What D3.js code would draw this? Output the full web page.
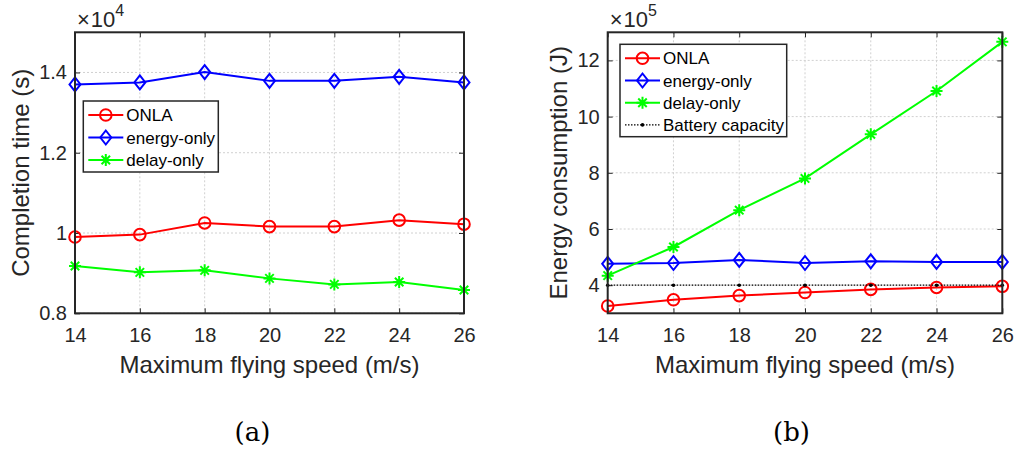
<!DOCTYPE html>
<html><head><meta charset="utf-8">
<script src="https://cdn.jsdelivr.net/npm/d3@7"></script>
<style>body{margin:0;background:#fff}svg{display:block}</style>
</head><body>
<svg id="c" width="1020" height="455"></svg>
<script>
const speeds = [14, 16, 18, 20, 22, 24, 26];
// (a) completion time, x1e4 s
const timeONLA = [0.990, 0.996, 1.025, 1.016, 1.016, 1.032, 1.022];
const timeEnergy = [1.370, 1.375, 1.401, 1.379, 1.379, 1.389, 1.375];
const timeDelay = [0.918, 0.902, 0.907, 0.887, 0.872, 0.878, 0.858];
// (b) energy consumption, x1e5 J
const enONLA = [3.26, 3.48, 3.63, 3.74, 3.85, 3.92, 3.96];
const enEnergy = [4.76, 4.79, 4.90, 4.79, 4.85, 4.83, 4.83];
const enDelay = [4.34, 5.36, 6.67, 7.80, 9.37, 10.91, 12.66];
const battery = [4, 4, 4, 4, 4, 4, 4];
const xTicks = [14, 16, 18, 20, 22, 24, 26];
const yTicksA = [0.8, 1, 1.2, 1.4];
const yTicksB = [4, 6, 8, 10, 12];
const namesA = ["ONLA", "energy-only", "delay-only"];
const namesB = ["ONLA", "energy-only", "delay-only", "Battery capacity"];

const svg = d3.select("#c");
const ink = "#262626";
const sans = "'Liberation Sans', Arial, sans-serif";
const serif = "'DejaVu Serif', 'Liberation Serif', serif";

function marker(g, type, color, x, y) {
  if (type === "circle") {
    g.append("circle").attr("cx", x).attr("cy", y).attr("r", 5.8)
      .attr("fill", "none").attr("stroke", color).attr("stroke-width", 2);
  } else if (type === "diamond") {
    g.append("path").attr("d", `M${x},${y-7}L${x+5.5},${y}L${x},${y+7}L${x-5.5},${y}Z`)
      .attr("fill", "none").attr("stroke", color).attr("stroke-width", 2);
  } else if (type === "star") {
    const r = 6, d = r * 0.707;
    g.append("path").attr("d", `M${x-r},${y}L${x+r},${y}M${x},${y-r}L${x},${y+r}M${x-d},${y-d}L${x+d},${y+d}M${x-d},${y+d}L${x+d},${y-d}`)
      .attr("stroke", color).attr("stroke-width", 2);
  } else if (type === "dot") {
    g.append("circle").attr("cx", x).attr("cy", y).attr("r", 1.8).attr("fill", color);
  }
}

function panel(opt) {
  const {left, right, top, bottom, yDomain, yTicks, series, exp, ylabel, legend} = opt;
  const x = d3.scaleLinear().domain([14, 26]).range([left, right]);
  const y = d3.scaleLinear().domain(yDomain).range([bottom, top]);
  const g = svg.append("g");
  // grid
  g.append("g").selectAll("line").data(xTicks.slice(1, -1)).join("line")
    .attr("x1", d => x(d)).attr("x2", d => x(d)).attr("y1", top).attr("y2", bottom)
    .attr("stroke", "#d0d0d0").attr("stroke-width", 1).attr("stroke-dasharray", "2,2");
  g.append("g").selectAll("line").data(yTicks).join("line")
    .attr("x1", left).attr("x2", right).attr("y1", d => y(d)).attr("y2", d => y(d))
    .attr("stroke", "#d0d0d0").attr("stroke-width", 1).attr("stroke-dasharray", "2,2");
  // axes (ticks inward, all sides)
  const tk = 5;
  const ax = g.append("g");
  const bAx = d3.axisBottom(x).tickValues(xTicks).tickSize(-tk).tickPadding(15).tickFormat(d3.format("d"));
  ax.append("g").attr("transform", `translate(0,${bottom})`).call(bAx);
  ax.append("g").attr("transform", `translate(0,${top})`).call(d3.axisTop(x).tickValues(xTicks).tickSize(-tk).tickFormat(""));
  const lAx = d3.axisLeft(y).tickValues(yTicks).tickSize(-tk).tickPadding(8).tickFormat(d => d3.format("")(d));
  ax.append("g").attr("transform", `translate(${left},0)`).call(lAx);
  ax.append("g").attr("transform", `translate(${right},0)`).call(d3.axisRight(y).tickValues(yTicks).tickSize(-tk).tickFormat(""));
  ax.selectAll("g").attr("font-size", 20).attr("font-family", sans);
  ax.selectAll(".domain").remove();
  ax.selectAll(".tick line").attr("stroke", ink).attr("stroke-width", 1);
  ax.selectAll(".tick text").attr("fill", ink);
  // series
  const line = d3.line().x((d, i) => x(speeds[i])).y(d => y(d));
  series.forEach(s => {
    g.append("path").datum(s.values).attr("d", line).attr("fill", "none")
      .attr("stroke", s.color).attr("stroke-width", s.dash ? 1.3 : 2)
      .attr("stroke-dasharray", s.dash || null);
    s.values.forEach((v, i) => marker(g, s.marker, s.color, x(speeds[i]), y(v)));
  });
  // box
  g.append("rect").attr("x", left).attr("y", top).attr("width", right - left).attr("height", bottom - top)
    .attr("fill", "none").attr("stroke", ink).attr("stroke-width", 2);
  // exponent
  const ex = g.append("text").attr("x", left + 2).attr("y", top - 5).attr("font-family", sans)
    .attr("font-size", 22).attr("fill", ink);
  ex.append("tspan").text("×");
  ex.append("tspan").attr("dx", 1).text("10");
  ex.append("tspan").attr("dy", -11).attr("font-size", 16).text(exp);
  // labels
  g.append("text").attr("x", (left + right) / 2).attr("y", 373).attr("text-anchor", "middle")
    .attr("font-family", sans).attr("font-size", 24).attr("fill", ink).text("Maximum flying speed (m/s)");
  g.append("text").attr("transform", `translate(${opt.ylx},${(top + bottom) / 2}) rotate(-90)`)
    .attr("text-anchor", "middle").attr("font-family", sans).attr("font-size", 24).attr("fill", ink).text(ylabel);
  // legend
  const L = legend;
  const lg = g.append("g");
  lg.append("rect").attr("x", L.x).attr("y", L.y).attr("width", L.w).attr("height", L.h)
    .attr("fill", "#fff").attr("stroke", ink).attr("stroke-width", 1.5);
  series.forEach((s, i) => {
    const yy = L.y + L.r0 + i * L.dy;
    lg.append("line").attr("x1", L.x + 5).attr("x2", L.x + 40).attr("y1", yy).attr("y2", yy)
      .attr("stroke", s.color).attr("stroke-width", s.dash ? 1.3 : 2).attr("stroke-dasharray", s.dash || null);
    marker(lg, s.marker, s.color, L.x + 22.5, yy);
    lg.append("text").attr("x", L.x + 43).attr("y", yy + 6).attr("font-family", sans)
      .attr("font-size", 17).attr("fill", "#000").text(s.name);
  });
}

panel({
  left: 75, right: 464, top: 32.3, bottom: 313.3, yDomain: [0.8, 1.5], yTicks: yTicksA, exp: "4",
  ylabel: "Completion time (s)", ylx: 29,
  series: [
    {name: namesA[0], values: timeONLA, color: "#ff0000", marker: "circle"},
    {name: namesA[1], values: timeEnergy, color: "#0000ff", marker: "diamond"},
    {name: namesA[2], values: timeDelay, color: "#00ff00", marker: "star"}
  ],
  legend: {x: 83.3, y: 101, w: 135, h: 71, r0: 14, dy: 22.5}
});
panel({
  left: 607.7, right: 1002.3, top: 32.3, bottom: 313.3, yDomain: [3, 13], yTicks: yTicksB, exp: "5",
  ylabel: "Energy consumption (J)", ylx: 567,
  series: [
    {name: namesB[0], values: enONLA, color: "#ff0000", marker: "circle"},
    {name: namesB[1], values: enEnergy, color: "#0000ff", marker: "diamond"},
    {name: namesB[2], values: enDelay, color: "#00ff00", marker: "star"},
    {name: namesB[3], values: battery, color: "#000", marker: "dot", dash: "1.5,1.5"}
  ],
  legend: {x: 620, y: 44.3, w: 166.7, h: 92.4, r0: 14, dy: 22.2}
});
svg.append("text").attr("x", 252.5).attr("y", 441).attr("text-anchor", "middle")
  .attr("font-family", serif).attr("font-size", 26).attr("fill", "#000").text("(a)");
svg.append("text").attr("x", 791.5).attr("y", 441).attr("text-anchor", "middle")
  .attr("font-family", serif).attr("font-size", 26).attr("fill", "#000").text("(b)");
</script>
</body></html>
